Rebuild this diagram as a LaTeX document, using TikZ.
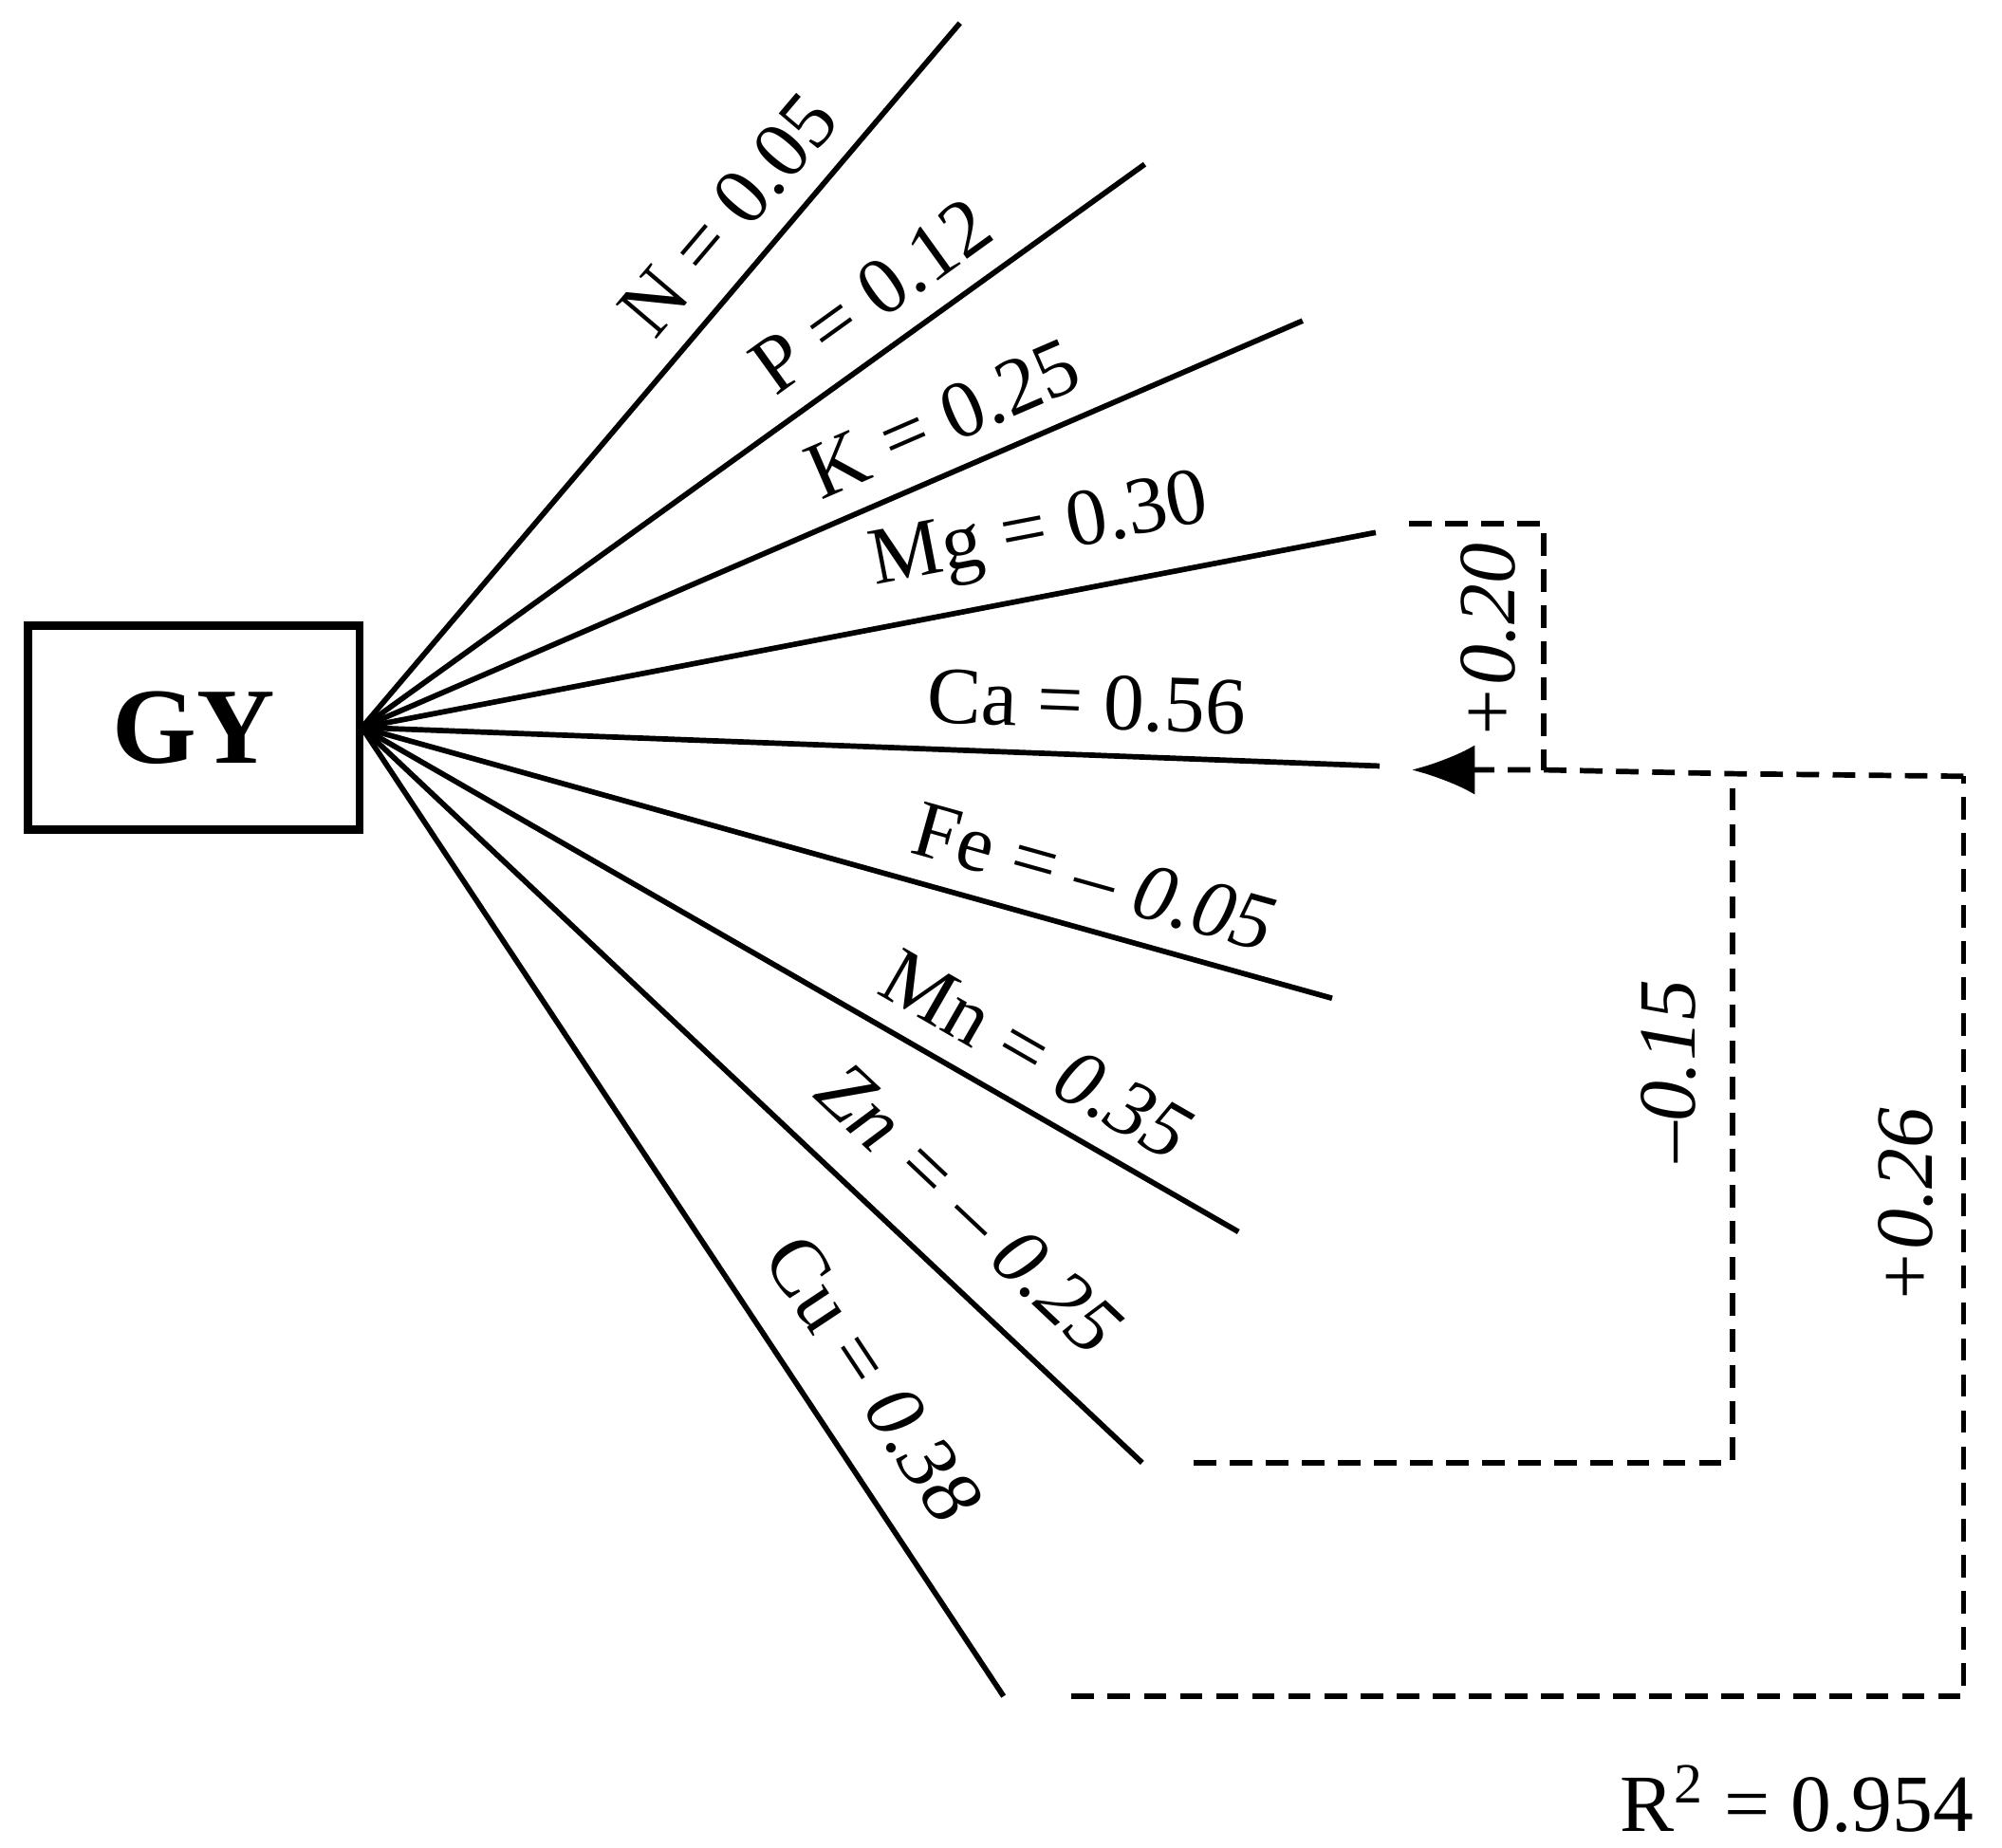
\documentclass[tikz,border=0pt]{standalone}
\usepackage{fontspec}
\setmainfont{Liberation Serif}
\usetikzlibrary{arrows.meta}
\begin{document}
\begin{tikzpicture}[x=0.01cm,y=-0.01cm,
  lab/.style={font=\fontsize{18}{21}\selectfont,sloped,above,inner sep=5pt},
  dl/.style={font=\fontsize{18}{21}\selectfont\itshape,rotate=90},
  ln/.style={line width=1.2pt},
  ds/.style={line width=1.2pt,dash pattern=on 5pt off 3pt}]
\useasboundingbox (0,0) rectangle (1560,1440);
\node[draw,line width=1.8pt,minimum width=2.58cm,minimum height=1.59cm,font=\fontsize{24}{28}\selectfont\bfseries] (gy) at (151,567) {GY};
\coordinate (h) at (282,567);
\coordinate (n) at (748,18); \coordinate (p) at (892,128); \coordinate (k) at (1015,250);
\coordinate (mg) at (1072,415); \coordinate (ca) at (1075,597); \coordinate (fe) at (1038,778);
\coordinate (mn) at (965,960); \coordinate (zn) at (890,1140); \coordinate (cu) at (782,1322);
\draw[ln] (h) -- node[lab,pos=0.68]{N = 0.05} (n);
\draw[ln] (h) -- node[lab,pos=0.69]{P = 0.12} (p);
\draw[ln] (h) -- node[lab,pos=0.64]{K = 0.25} (k);
\draw[ln] (h) -- node[lab,pos=0.68]{Mg = 0.30} (mg);
\draw[ln] (h) -- node[lab,pos=0.71]{Ca = 0.56} (ca);
\draw[ln] (h) -- node[lab,pos=0.74]{Fe = – \textit{0.05}} (fe);
\draw[ln] (h) -- node[lab,pos=0.74]{Mn = \textit{0.35}} (mn);
\draw[ln] (h) -- node[lab,pos=0.72,inner sep=8pt]{\textit{Zn = – 0.25}} (zn);
\draw[ln] (h) -- node[lab,pos=0.71,inner sep=8pt]{Cu = \textit{0.38}} (cu);
\coordinate (a1) at (1098,408); \coordinate (a2) at (1203,408); \coordinate (a3) at (1203,600);
\coordinate (tip) at (1100,600);
\coordinate (b1) at (930,1140); \coordinate (b2) at (1350,1140); \coordinate (b3) at (1350,603);
\coordinate (c1) at (835,1322); \coordinate (c2) at (1530,1322); \coordinate (c3) at (1530,605);
\draw[ds] (a1) -- (a2) -- (a3);
\draw[ds,-{Latex[length=14pt,width=11pt]}] (c3) -- (b3) -- (a3) -- (tip);
\draw[ds] (b1) -- (b2) -- (b3);
\draw[ds] (c1) -- (c2) -- (c3);
\node[dl] (l1) at (1160,500) {+0.20};
\node[dl] (l2) at (1300,835) {–0.15};
\node[dl] (l3) at (1485,940) {+0.26};
\node[font=\fontsize{18}{21}\selectfont] (r) at (1400,1402) {R\textsuperscript{2} = 0.954};
\end{tikzpicture}
\end{document}
